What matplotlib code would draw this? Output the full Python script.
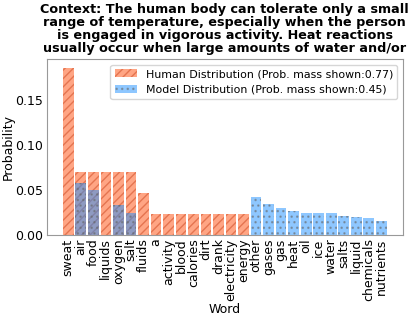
import numpy as np
import matplotlib
matplotlib.use("Agg")
import matplotlib.pyplot as plt

#%% Data
words = ["sweat", "air", "food", "liquids", "oxygen", "salt", "fluids", "a",
         "activity", "blood", "calories", "dirt", "drank", "electricity", "energy",
         "other", "gases", "gas", "heat", "oil", "ice", "water", "salts", "liquid",
         "chemicals", "nutrients"]

human = [0.186, 0.070, 0.070, 0.070, 0.070, 0.070, 0.0465, 0.0233,
         0.0233, 0.0233, 0.0233, 0.0233, 0.0233, 0.0233, 0.0233,
         0, 0, 0, 0, 0, 0, 0, 0, 0, 0, 0]

model = [0, 0.0574, 0.050, 0, 0.0333, 0.0248, 0, 0,
         0, 0, 0, 0, 0, 0, 0,
         0.0426, 0.0344, 0.0304, 0.027, 0.0248, 0.0248, 0.0248, 0.0215, 0.020,
         0.0193, 0.016]

title = ("Context: The human body can tolerate only a small\n"
         "range of temperature, especially when the person\n"
         "is engaged in vigorous activity. Heat reactions\n"
         "usually occur when large amounts of water and/or")

#%% Plot
plt.rcParams['font.size'] = 9
fig, ax = plt.subplots(figsize=(4.14, 3.18), dpi=100)
x = np.arange(len(words))

ax.bar(x, human, width=0.85, color='coral', alpha=0.7, edgecolor='#d9603a',
       linewidth=0, hatch='////',
       label='Human Distribution (Prob. mass shown:%.2f)' % sum(human))
ax.bar(x, model, width=0.85, color='dodgerblue', alpha=0.5, edgecolor='#666666',
       linewidth=0, hatch='...',
       label='Model Distribution (Prob. mass shown:%.2f)' % sum(model))

ax.set_xticks(x)
ax.set_xticklabels(words, rotation=90)
ax.set_yticks([0, 0.05, 0.10, 0.15])
ax.tick_params(length=0, pad=2.5)
ax.set_xlabel('Word', labelpad=1)
ax.set_ylabel('Probability', labelpad=0.5)
ax.set_title(title, fontweight='bold', fontsize=9.2, linespacing=1.0, pad=5)
for s in ax.spines.values():
    s.set_color('#999999')
ax.legend(loc='upper right', fontsize=7.9)

fig.subplots_adjust(left=0.113, right=0.973, top=0.814, bottom=0.261)
fig.savefig('out.png')
